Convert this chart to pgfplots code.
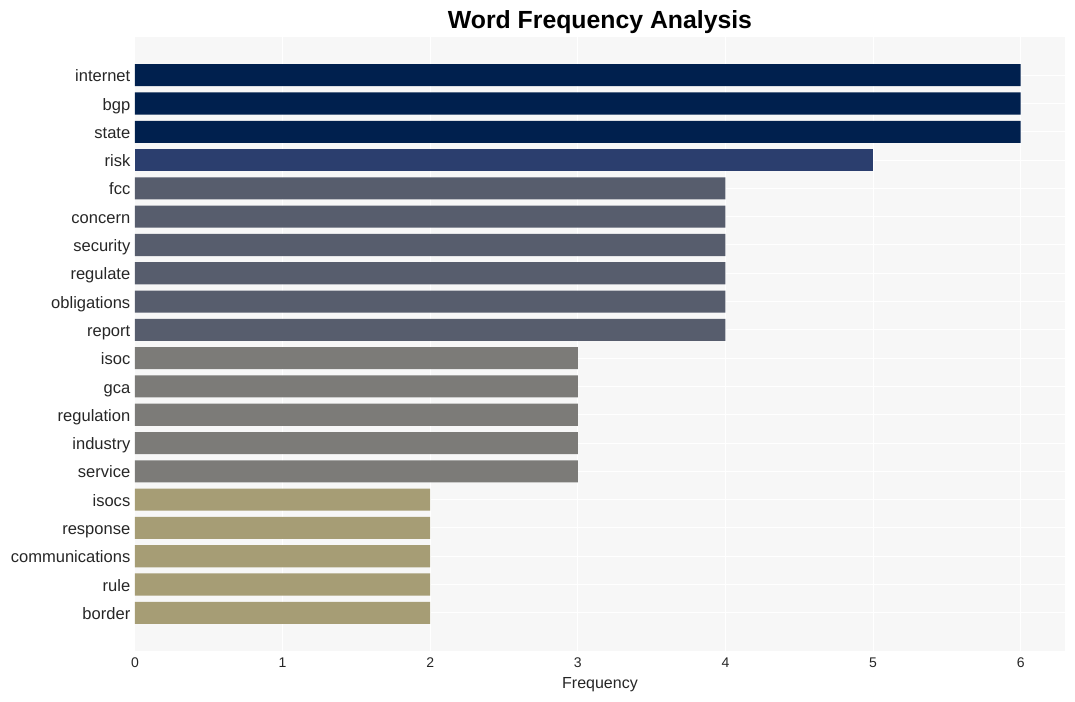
\documentclass[border=0pt]{standalone}
\usepackage{pgfplots}
\pgfplotsset{compat=1.18}
\usepackage{fontspec}
\setmainfont{Liberation Sans}
\definecolor{csix}{HTML}{00204E}
\definecolor{cfive}{HTML}{2B3E6E}
\definecolor{cfour}{HTML}{575D6D}
\definecolor{cthree}{HTML}{7C7B78}
\definecolor{ctwo}{HTML}{A69D75}
\definecolor{bgcol}{HTML}{F7F7F7}
\definecolor{txt}{HTML}{262626}
\begin{document}
\begin{tikzpicture}
\path[use as bounding box] (-101.25pt,-37.5pt) rectangle (705pt,488.25pt);
\begin{axis}[
  at={(0,0)}, anchor=south west,
  scale only axis, width=697.5pt, height=460.5pt,
  xmin=0, xmax=6.3, ymin=-1.35, ymax=20.35, y dir=reverse,
  xbar, bar width=0.78, bar shift=0pt,
  axis background/.style={fill=bgcol},
  axis line style={draw=none},
  major tick length=0pt,
  grid=major, major grid style={white, line width=0.75pt},
  xtick={0,1,2,3,4,5,6}, ytick={0,...,19},
  yticklabels={internet,bgp,state,risk,fcc,concern,security,regulate,obligations,report,isoc,gca,regulation,industry,service,isocs,response,communications,rule,border},
  /pgf/number format/assume math mode=true,
  xticklabel style={font=\fontsize{10.5}{12}\selectfont, text=txt, yshift=-1.5pt},
  yticklabel style={font=\fontsize{12.4}{14}\selectfont, text=txt, text height=1.6ex, text depth=0.3ex, yshift=-1.5pt},
  xlabel={Frequency}, xlabel style={font=\fontsize{12}{14}\selectfont, text=txt, yshift=-0.5pt},
  title={Word Frequency Analysis}, title style={font=\bfseries\fontsize{18.6}{22}\selectfont, text=black, yshift=-7pt},
]
\addplot[fill=csix, draw=none] coordinates {(6,0) (6,1) (6,2)};
\addplot[fill=cfive, draw=none] coordinates {(5,3)};
\addplot[fill=cfour, draw=none] coordinates {(4,4) (4,5) (4,6) (4,7) (4,8) (4,9)};
\addplot[fill=cthree, draw=none] coordinates {(3,10) (3,11) (3,12) (3,13) (3,14)};
\addplot[fill=ctwo, draw=none] coordinates {(2,15) (2,16) (2,17) (2,18) (2,19)};
\end{axis}
\end{tikzpicture}
\end{document}
